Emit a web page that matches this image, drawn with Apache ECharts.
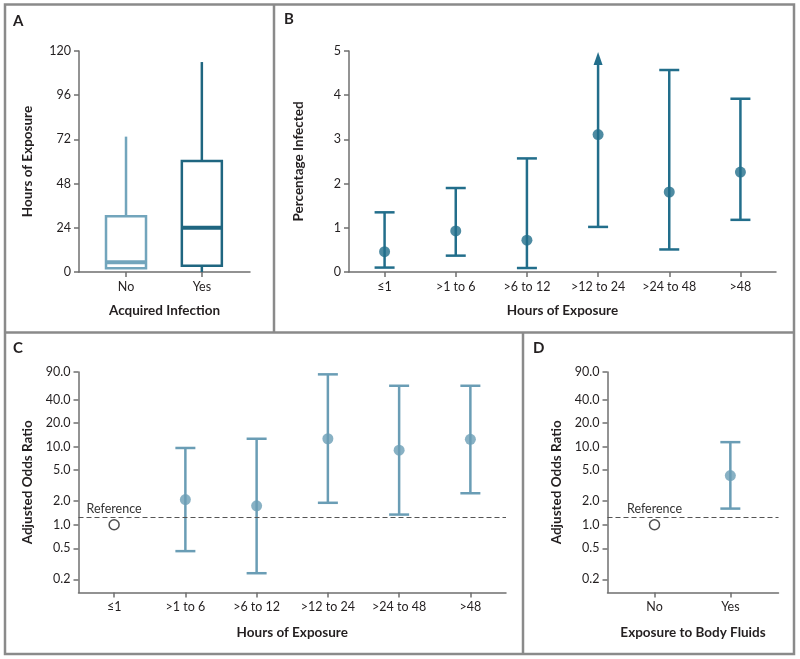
<!DOCTYPE html>
<html><head><meta charset="utf-8">
<script src="https://cdn.jsdelivr.net/npm/echarts@6/dist/echarts.min.js"></script>
<style>html,body{margin:0;padding:0;background:#fff}#c{width:800px;height:659px}</style>
</head><body><div id="c"></div>
<script>
// ---------- Panel A: box plot (hours of exposure) ----------
const aCats = ['No', 'Yes'];
const aMin = [2, 0];
const aQ1 = [2, 3.4];
const aMedian = [5.3, 24];
const aQ3 = [30.3, 60.3];
const aMax = [73.5, 114];
const aTicks = [0, 24, 48, 72, 96, 120];

// ---------- Panel B: percentage infected ----------
const bCats = ['\u22641', '>1 to 6', '>6 to 12', '>12 to 24', '>24 to 48', '>48'];
const bPct = [0.46, 0.93, 0.72, 3.11, 1.81, 2.26];
const bLow = [0.10, 0.37, 0.09, 1.02, 0.51, 1.18];
const bHigh = [1.35, 1.90, 2.57, 4.98, 4.57, 3.92];
const bArrow = [0, 0, 0, 1, 0, 0];

// ---------- Panel C: adjusted odds ratio by hours ----------
const cCats = ['\u22641', '>1 to 6', '>6 to 12', '>12 to 24', '>24 to 48', '>48'];
const cOR = [1.0, 2.10, 1.75, 12.6, 9.0, 12.4];
const cLow = [null, 0.46, 0.24, 1.91, 1.35, 2.53];
const cHigh = [null, 9.6, 12.6, 84, 60, 60];
const cIsReference = [1, 0, 0, 0, 0, 0];

// ---------- Panel D: adjusted odds ratio by body fluids ----------
const dCats = ['No', 'Yes'];
const dOR = [1.0, 4.26];
const dLow = [null, 1.61];
const dHigh = [null, 11.4];
const dIsReference = [1, 0];

const orTicks = [0.2, 0.5, 1, 2, 5, 10, 20, 40, 90];
const refLineValue = 1.25;

// ---------- styles ----------
const FONT = 'Lato, "Open Sans", "DejaVu Sans", sans-serif';
const TXT = '#231f20';
const AXC = '#6f6f6f';
const COL_A = ['#72a5bc', '#1f6680'];
const COL_B = '#226e8b';
const COL_C = '#6a9db5';
const BORDER = '#8a8a8a';

const chart = echarts.init(document.getElementById('c'), null, {renderer: 'canvas'});

const labelStyle = {color: TXT, fontFamily: FONT, fontSize: 12.5};
const nameStyle = {color: TXT, fontFamily: FONT, fontSize: 13.5, fontWeight: 'bold'};
const axisLine = {show: true, onZero: false, lineStyle: {color: AXC, width: 1.5}};
const tick = {show: true, length: 5, lineStyle: {color: AXC, width: 1.5}};

function catValueAxis(gridIndex, cats, name) {
  return {
    type: 'value', gridIndex: gridIndex, min: -0.62, max: 1.635,
    name: name, nameLocation: 'middle', nameGap: 32, nameTextStyle: nameStyle,
    axisLine: axisLine,
    axisTick: Object.assign({}, tick, {customValues: [0, 1]}),
    axisLabel: Object.assign({}, labelStyle, {margin: 8, customValues: [0, 1],
      formatter: v => cats[Math.round(v)]}),
    splitLine: {show: false}
  };
}
function catAxis(gridIndex, cats, name) {
  return {
    type: 'category', gridIndex: gridIndex, data: cats, boundaryGap: true,
    name: name, nameLocation: 'middle', nameGap: 33, nameTextStyle: nameStyle,
    axisLine: axisLine,
    axisTick: Object.assign({}, tick, {alignWithLabel: true}),
    axisLabel: Object.assign({}, labelStyle, {margin: 8, interval: 0}),
    splitLine: {show: false}
  };
}
function logAxis(gridIndex) {
  return {
    type: 'log', logBase: 10, gridIndex: gridIndex, min: 0.136, max: 90,
    name: 'Adjusted Odds Ratio', nameLocation: 'middle', nameGap: 44, nameTextStyle: nameStyle,
    axisLine: axisLine,
    axisTick: Object.assign({}, tick, {customValues: orTicks}),
    axisLabel: Object.assign({}, labelStyle, {margin: 8, customValues: orTicks,
      formatter: v => Number(v).toFixed(1)}),
    minorTick: {show: false},
    splitLine: {show: false}
  };
}

function boxItem(params, api) {
  const x = api.value(0);
  const lo = api.coord([x, api.value(1)]);
  const q1 = api.coord([x, api.value(2)]);
  const md = api.coord([x, api.value(3)]);
  const q3 = api.coord([x, api.value(4)]);
  const hi = api.coord([x, api.value(5)]);
  const col = COL_A[params.dataIndex];
  const cx = q1[0], hw = 20, lw = 2.5;
  const ch = [
    {type: 'line', shape: {x1: cx, y1: hi[1], x2: cx, y2: q3[1]}, style: {stroke: col, lineWidth: lw}},
    {type: 'rect', shape: {x: cx - hw, y: q3[1], width: 2 * hw, height: q1[1] - q3[1]},
      style: {stroke: col, fill: '#fff', lineWidth: lw}},
    {type: 'line', shape: {x1: cx - hw, y1: md[1], x2: cx + hw, y2: md[1]}, style: {stroke: col, lineWidth: 4}}
  ];
  if (lo[1] > q1[1] + 0.5) {
    ch.unshift({type: 'line', shape: {x1: cx, y1: q1[1], x2: cx, y2: lo[1]}, style: {stroke: col, lineWidth: lw}});
  }
  return {type: 'group', children: ch};
}

function errBar(color, lw) {
  return function (params, api) {
    const x = api.value(0);
    const pLo = api.coord([x, api.value(1)]);
    const pHi = api.coord([x, api.value(2)]);
    const arrow = api.value(3);
    const cx = pLo[0], cw = 10;
    const st = {stroke: color, lineWidth: lw};
    const ch = [];
    if (arrow) {
      const ah = 13, aw = 9;
      ch.push({type: 'line', shape: {x1: cx, y1: pLo[1], x2: cx, y2: pHi[1] + ah - 1}, style: st});
      ch.push({type: 'polygon', shape: {points: [[cx, pHi[1]], [cx - aw / 2, pHi[1] + ah], [cx + aw / 2, pHi[1] + ah]]},
        style: {fill: color}});
    } else {
      ch.push({type: 'line', shape: {x1: cx, y1: pLo[1], x2: cx, y2: pHi[1]}, style: st});
      ch.push({type: 'line', shape: {x1: cx - cw, y1: pHi[1], x2: cx + cw, y2: pHi[1]}, style: st});
    }
    ch.push({type: 'line', shape: {x1: cx - cw, y1: pLo[1], x2: cx + cw, y2: pLo[1]}, style: st});
    return {type: 'group', children: ch};
  };
}

function refSeries(xi, yi, data, coordX) {
  return {
    type: 'scatter', xAxisIndex: xi, yAxisIndex: yi, data: data, z: 5,
    symbol: 'circle', symbolSize: 10,
    itemStyle: {color: '#fff', borderColor: '#222', borderWidth: 1.5},
    markLine: {
      silent: true, symbol: 'none', animation: false,
      data: [{yAxis: refLineValue}],
      lineStyle: {type: [5, 3], color: '#555', width: 1.2},
      label: {show: false}
    },
    markPoint: {
      silent: true, animation: false,
      data: [{coord: [coordX, refLineValue], symbol: 'circle', symbolSize: 0,
        label: {show: true, position: 'top', distance: 2, formatter: 'Reference',
          color: '#333', fontFamily: FONT, fontSize: 12.5}}]
    }
  };
}

const option = {
  animation: false,
  backgroundColor: '#fff',
  grid: [
    {left: 79, top: 51, width: 171, height: 221},
    {left: 349, top: 51, width: 427, height: 221},
    {left: 78.5, top: 372, width: 427.5, height: 220.5},
    {left: 607.5, top: 372, width: 171, height: 220.5}
  ],
  xAxis: [
    catValueAxis(0, aCats, 'Acquired Infection'),
    Object.assign(catAxis(1, bCats, 'Hours of Exposure'), {nameGap: 32}),
    catAxis(2, cCats, 'Hours of Exposure'),
    Object.assign(catValueAxis(3, dCats, 'Exposure to Body Fluids'), {nameGap: 33})
  ],
  yAxis: [
    {type: 'value', gridIndex: 0, min: 0, max: 120, interval: 24,
      name: 'Hours of Exposure', nameLocation: 'middle', nameGap: 44, nameTextStyle: nameStyle,
      axisLine: axisLine, axisTick: tick, axisLabel: Object.assign({}, labelStyle, {margin: 8}),
      splitLine: {show: false}},
    {type: 'value', gridIndex: 1, min: 0, max: 5, interval: 1,
      name: 'Percentage Infected', nameLocation: 'middle', nameGap: 43, nameTextStyle: nameStyle,
      axisLine: axisLine, axisTick: tick, axisLabel: Object.assign({}, labelStyle, {margin: 8}),
      splitLine: {show: false}},
    logAxis(2),
    logAxis(3)
  ],
  series: [
    {type: 'custom', xAxisIndex: 0, yAxisIndex: 0, renderItem: boxItem,
      encode: {x: 0, y: [1, 2, 3, 4, 5]},
      data: aCats.map((c, i) => [i, aMin[i], aQ1[i], aMedian[i], aQ3[i], aMax[i]])},
    {type: 'custom', xAxisIndex: 1, yAxisIndex: 1, renderItem: errBar(COL_B, 2.5),
      encode: {x: 0, y: [1, 2]},
      data: bCats.map((c, i) => [i, bLow[i], bHigh[i], bArrow[i]])},
    {type: 'scatter', xAxisIndex: 1, yAxisIndex: 1, data: bPct, symbolSize: 11, z: 5,
      itemStyle: {color: COL_B}},
    {type: 'custom', xAxisIndex: 2, yAxisIndex: 2, renderItem: errBar(COL_C, 2.5),
      encode: {x: 0, y: [1, 2]},
      data: cCats.map((c, i) => [i, cLow[i], cHigh[i], 0]).filter((d, i) => !cIsReference[i])},
    {type: 'scatter', xAxisIndex: 2, yAxisIndex: 2, symbolSize: 11, z: 5,
      itemStyle: {color: COL_C},
      data: cOR.map((v, i) => cIsReference[i] ? '-' : v)},
    refSeries(2, 2, cOR.map((v, i) => cIsReference[i] ? v : '-'), cCats[0]),
    {type: 'custom', xAxisIndex: 3, yAxisIndex: 3, renderItem: errBar(COL_C, 2.5),
      encode: {x: 0, y: [1, 2]},
      data: dCats.map((c, i) => [i, dLow[i], dHigh[i], 0]).filter((d, i) => !dIsReference[i])},
    {type: 'scatter', xAxisIndex: 3, yAxisIndex: 3, symbolSize: 11, z: 5,
      itemStyle: {color: COL_C},
      data: dOR.map((v, i) => dIsReference[i] ? null : [i, v]).filter(d => d)},
    refSeries(3, 3, dOR.map((v, i) => dIsReference[i] ? [i, v] : null).filter(d => d), 0)
  ],
  graphic: [
    {type: 'rect', shape: {x: 5, y: 4.5, width: 789, height: 649.5}, style: {fill: null, stroke: BORDER, lineWidth: 2.5}, silent: true},
    {type: 'line', shape: {x1: 5, y1: 332.5, x2: 794, y2: 332.5}, style: {stroke: BORDER, lineWidth: 2.5}, silent: true},
    {type: 'line', shape: {x1: 274, y1: 4.5, x2: 274, y2: 332.5}, style: {stroke: BORDER, lineWidth: 2.5}, silent: true},
    {type: 'line', shape: {x1: 523, y1: 332.5, x2: 523, y2: 654}, style: {stroke: BORDER, lineWidth: 2.5}, silent: true},
    {type: 'text', left: 13, top: 14, style: {text: 'A', font: 'bold 15px ' + FONT, fill: TXT}},
    {type: 'text', left: 284, top: 12, style: {text: 'B', font: 'bold 15px ' + FONT, fill: TXT}},
    {type: 'text', left: 13, top: 341, style: {text: 'C', font: 'bold 15px ' + FONT, fill: TXT}},
    {type: 'text', left: 533, top: 341, style: {text: 'D', font: 'bold 15px ' + FONT, fill: TXT}}
  ]
};
chart.setOption(option);
</script>
</body></html>
